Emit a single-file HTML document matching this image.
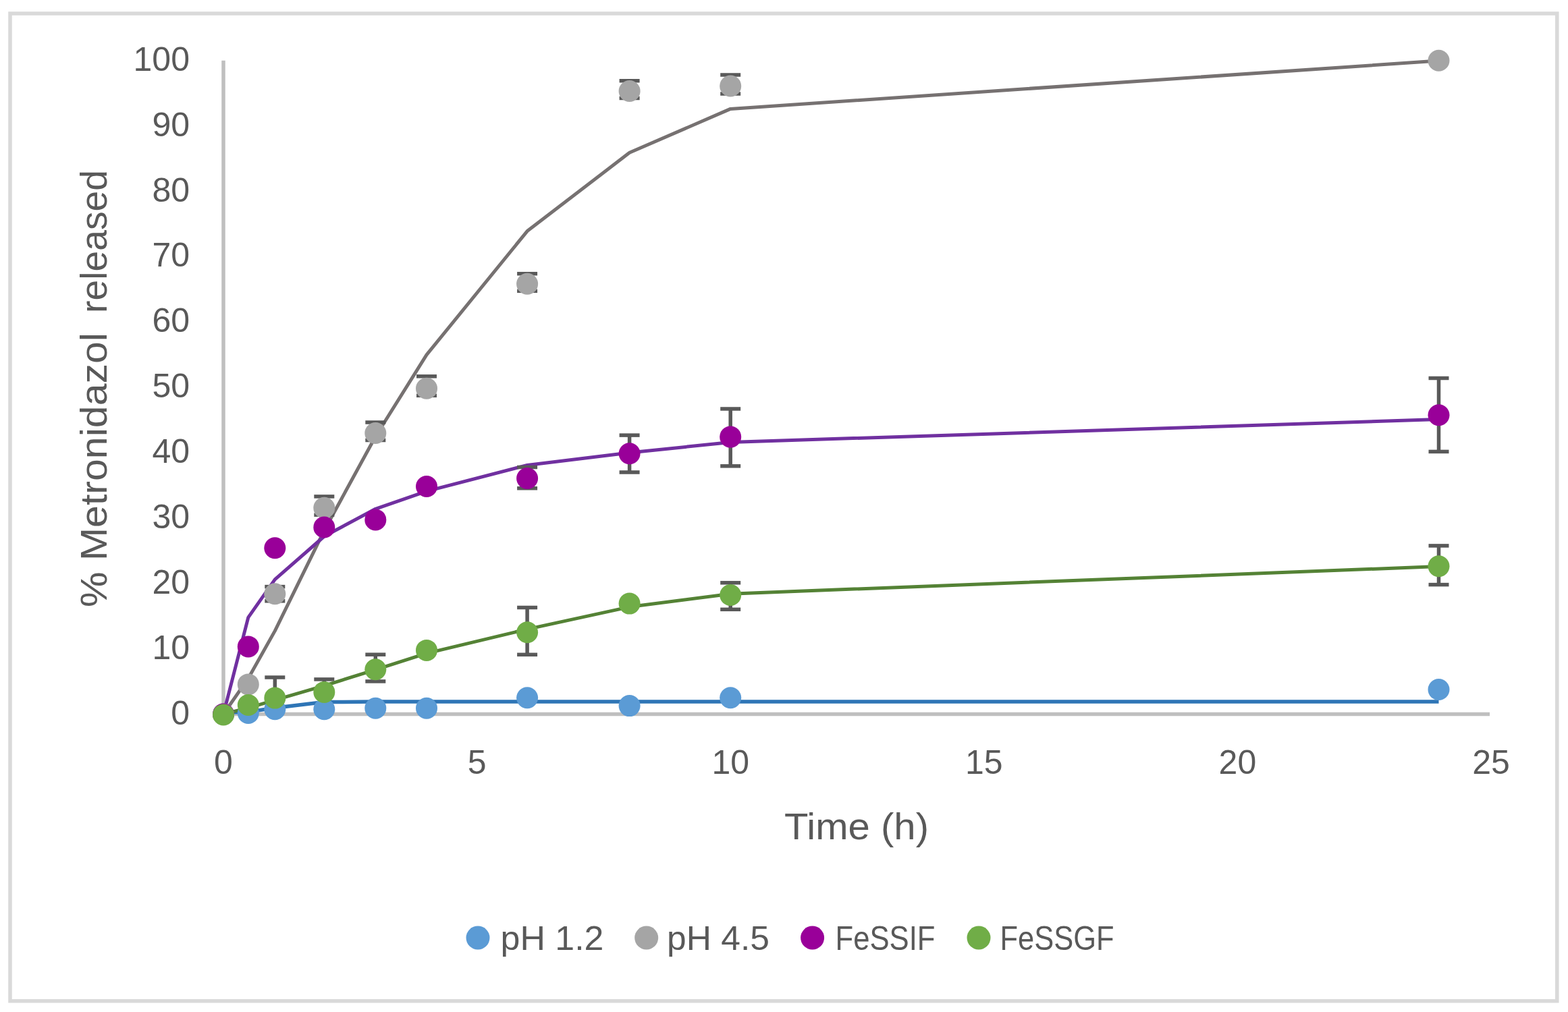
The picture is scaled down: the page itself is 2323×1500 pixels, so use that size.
<!DOCTYPE html>
<html><head><meta charset="utf-8"><title>Metronidazol release</title>
<style>html,body{margin:0;padding:0;background:#fff;}svg{display:block;}</style>
</head><body>
<svg width="2323" height="1500" viewBox="0 0 2323 1500">
<defs><clipPath id="pc"><rect x="328" y="60" width="1900" height="998.5"/></clipPath></defs>
<rect width="2323" height="1500" fill="#fff"/>
<rect x="15" y="20" width="2291.8" height="1463.7" fill="#fff" stroke="#D9D9D9" stroke-width="5.5"/>
<path d="M331 89.7V1058.5" stroke="#BFBFBF" stroke-width="5.5" fill="none"/>
<path d="M328.25 1058.5H2207" stroke="#BFBFBF" stroke-width="5.5" fill="none"/>
<g font-family="Liberation Sans, Arial, sans-serif" font-size="50" fill="#595959"><text x="281" y="1073.5" text-anchor="end">0</text><text x="281" y="976.6" text-anchor="end">10</text><text x="281" y="879.7" text-anchor="end">20</text><text x="281" y="782.9" text-anchor="end">30</text><text x="281" y="686.0" text-anchor="end">40</text><text x="281" y="589.1" text-anchor="end">50</text><text x="281" y="492.2" text-anchor="end">60</text><text x="281" y="395.3" text-anchor="end">70</text><text x="281" y="298.5" text-anchor="end">80</text><text x="281" y="201.6" text-anchor="end">90</text><text x="281" y="104.7" text-anchor="end">100</text></g>
<g font-family="Liberation Sans, Arial, sans-serif" font-size="50" fill="#595959"><text x="331.0" y="1147" text-anchor="middle">0</text><text x="706.6" y="1147" text-anchor="middle">5</text><text x="1082.2" y="1147" text-anchor="middle">10</text><text x="1457.8" y="1147" text-anchor="middle">15</text><text x="1833.4" y="1147" text-anchor="middle">20</text><text x="2209.0" y="1147" text-anchor="middle">25</text></g>
<text x="1269" y="1244" text-anchor="middle" font-family="Liberation Sans, Arial, sans-serif" font-size="55" fill="#595959" textLength="214" lengthAdjust="spacingAndGlyphs">Time (h)</text>
<g transform="translate(157.5 0) rotate(-90)" font-family="Liberation Sans, Arial, sans-serif" font-size="55" fill="#595959"><text x="-900" y="0" textLength="407" lengthAdjust="spacingAndGlyphs">% Metronidazol</text><text x="-464" y="0" textLength="212" lengthAdjust="spacingAndGlyphs">released</text></g>
<g clip-path="url(#pc)">
<polyline points="331.0,1058.5 367.8,1055.1 407.3,1049.3 480.3,1040.6 556.3,1040.1 632.0,1040.1 781.1,1040.1 932.6,1040.1 1082.2,1040.1 2131.5,1040.1" fill="none" stroke="#2E75B6" stroke-width="5.5" stroke-linejoin="round"/>
<polyline points="331.0,1058.5 367.8,1005.5 407.3,935.1 480.3,786.4 556.3,647.0 632.0,525.9 781.1,342.6 932.6,226.3 1082.2,161.4 2131.5,90.1" fill="none" stroke="#767171" stroke-width="5" stroke-linejoin="round"/>
<polyline points="331.0,1058.5 367.8,915.1 407.3,858.9 480.3,795.0 556.3,754.3 632.0,728.1 781.1,689.4 932.6,671.0 1082.2,655.5 2131.5,621.6" fill="none" stroke="#7030A0" stroke-width="5" stroke-linejoin="round"/>
<polyline points="331.0,1058.5 367.8,1049.3 407.3,1037.7 480.3,1016.4 556.3,992.6 632.0,968.4 781.1,932.6 932.6,899.6 1082.2,880.2 2131.5,839.6" fill="none" stroke="#548235" stroke-width="5" stroke-linejoin="round"/>
<g stroke="#595959" stroke-width="5.5" fill="none">
<path d="M407.3 869.6V890.8" />
<path d="M392.3 869.6H422.3" />
<path d="M392.3 890.8H422.3" />
<path d="M480.3 735.9V763.2" />
<path d="M465.3 735.9H495.3" />
<path d="M465.3 763.2H495.3" />
<path d="M556.3 626.0V652.5" />
<path d="M541.3 626.0H571.3" />
<path d="M541.3 652.5H571.3" />
<path d="M632.0 557.8V586.3" />
<path d="M617.0 557.8H647.0" />
<path d="M617.0 586.3H647.0" />
<path d="M781.1 405.7V431.3" />
<path d="M766.1 405.7H796.1" />
<path d="M766.1 431.3H796.1" />
<path d="M932.6 119.8V145.5" />
<path d="M917.6 119.8H947.6" />
<path d="M917.6 145.5H947.6" />
<path d="M1082.2 110.9V139.0" />
<path d="M1067.2 110.9H1097.2" />
<path d="M1067.2 139.0H1097.2" />
<path d="M781.1 692.5V723.7" />
<path d="M766.1 692.5H796.1" />
<path d="M766.1 723.7H796.1" />
<path d="M932.6 645.1V700.0" />
<path d="M917.6 645.1H947.6" />
<path d="M917.6 700.0H947.6" />
<path d="M1082.2 606.0V690.8" />
<path d="M1067.2 606.0H1097.2" />
<path d="M1067.2 690.8H1097.2" />
<path d="M2131.5 560.5V669.4" />
<path d="M2116.5 560.5H2146.5" />
<path d="M2116.5 669.4H2146.5" />
<path d="M407.3 1004.0V1058.5" />
<path d="M392.3 1004.0H422.3" />
<path d="M480.3 1006.9V1025.9" />
<path d="M465.3 1006.9H495.3" />
<path d="M465.3 1025.9H495.3" />
<path d="M556.3 970.2V1009.9" />
<path d="M541.3 970.2H571.3" />
<path d="M541.3 1009.9H571.3" />
<path d="M781.1 900.5V970.3" />
<path d="M766.1 900.5H796.1" />
<path d="M766.1 970.3H796.1" />
<path d="M1082.2 863.8V903.3" />
<path d="M1067.2 863.8H1097.2" />
<path d="M1067.2 903.3H1097.2" />
<path d="M2131.5 808.9V866.6" />
<path d="M2116.5 808.9H2146.5" />
<path d="M2116.5 866.6H2146.5" />
</g>
</g>
<g fill="#5B9BD5"><circle cx="331.0" cy="1058.5" r="16"/>
<circle cx="367.8" cy="1057.0" r="16"/>
<circle cx="407.3" cy="1051.3" r="16"/>
<circle cx="480.3" cy="1051.2" r="16"/>
<circle cx="556.3" cy="1049.8" r="16"/>
<circle cx="632.0" cy="1049.8" r="16"/>
<circle cx="781.1" cy="1034.3" r="16"/>
<circle cx="932.6" cy="1046.1" r="16"/>
<circle cx="1082.2" cy="1034.3" r="16"/>
<circle cx="2131.5" cy="1022.0" r="16"/></g>
<g fill="#A5A5A5"><circle cx="331.0" cy="1058.5" r="16"/>
<circle cx="367.8" cy="1014.4" r="16"/>
<circle cx="407.3" cy="880.2" r="16"/>
<circle cx="480.3" cy="752.7" r="16"/>
<circle cx="556.3" cy="642.0" r="16"/>
<circle cx="632.0" cy="575.8" r="16"/>
<circle cx="781.1" cy="420.8" r="16"/>
<circle cx="932.6" cy="135.0" r="16"/>
<circle cx="1082.2" cy="127.5" r="16"/>
<circle cx="2131.5" cy="89.8" r="16"/></g>
<g fill="#990099"><circle cx="331.0" cy="1058.5" r="16"/>
<circle cx="367.8" cy="958.4" r="16"/>
<circle cx="407.3" cy="812.2" r="16"/>
<circle cx="480.3" cy="781.5" r="16"/>
<circle cx="556.3" cy="770.4" r="16"/>
<circle cx="632.0" cy="721.0" r="16"/>
<circle cx="781.1" cy="709.0" r="16"/>
<circle cx="932.6" cy="672.3" r="16"/>
<circle cx="1082.2" cy="647.6" r="16"/>
<circle cx="2131.5" cy="615.3" r="16"/></g>
<g fill="#70AD47"><circle cx="331.0" cy="1059.4" r="16"/>
<circle cx="367.8" cy="1045.0" r="16"/>
<circle cx="407.3" cy="1034.6" r="16"/>
<circle cx="480.3" cy="1025.9" r="16"/>
<circle cx="556.3" cy="992.3" r="16"/>
<circle cx="632.0" cy="963.9" r="16"/>
<circle cx="781.1" cy="937.2" r="16"/>
<circle cx="932.6" cy="894.6" r="16"/>
<circle cx="1082.2" cy="882.0" r="16"/>
<circle cx="2131.5" cy="839.3" r="16"/></g>
<circle cx="708" cy="1390" r="17.5" fill="#5B9BD5"/>
<text x="741.5" y="1408" font-family="Liberation Sans, Arial, sans-serif" font-size="50" fill="#595959" textLength="153" lengthAdjust="spacingAndGlyphs">pH 1.2</text>
<circle cx="957.7" cy="1390" r="17.5" fill="#A5A5A5"/>
<text x="988" y="1408" font-family="Liberation Sans, Arial, sans-serif" font-size="50" fill="#595959" textLength="152" lengthAdjust="spacingAndGlyphs">pH 4.5</text>
<circle cx="1203.6" cy="1390" r="17.5" fill="#990099"/>
<text x="1237.5" y="1408" font-family="Liberation Sans, Arial, sans-serif" font-size="50" fill="#595959" textLength="148" lengthAdjust="spacingAndGlyphs">FeSSIF</text>
<circle cx="1450" cy="1390" r="17.5" fill="#70AD47"/>
<text x="1481.5" y="1408" font-family="Liberation Sans, Arial, sans-serif" font-size="50" fill="#595959" textLength="169" lengthAdjust="spacingAndGlyphs">FeSSGF</text>
</svg>
</body></html>
